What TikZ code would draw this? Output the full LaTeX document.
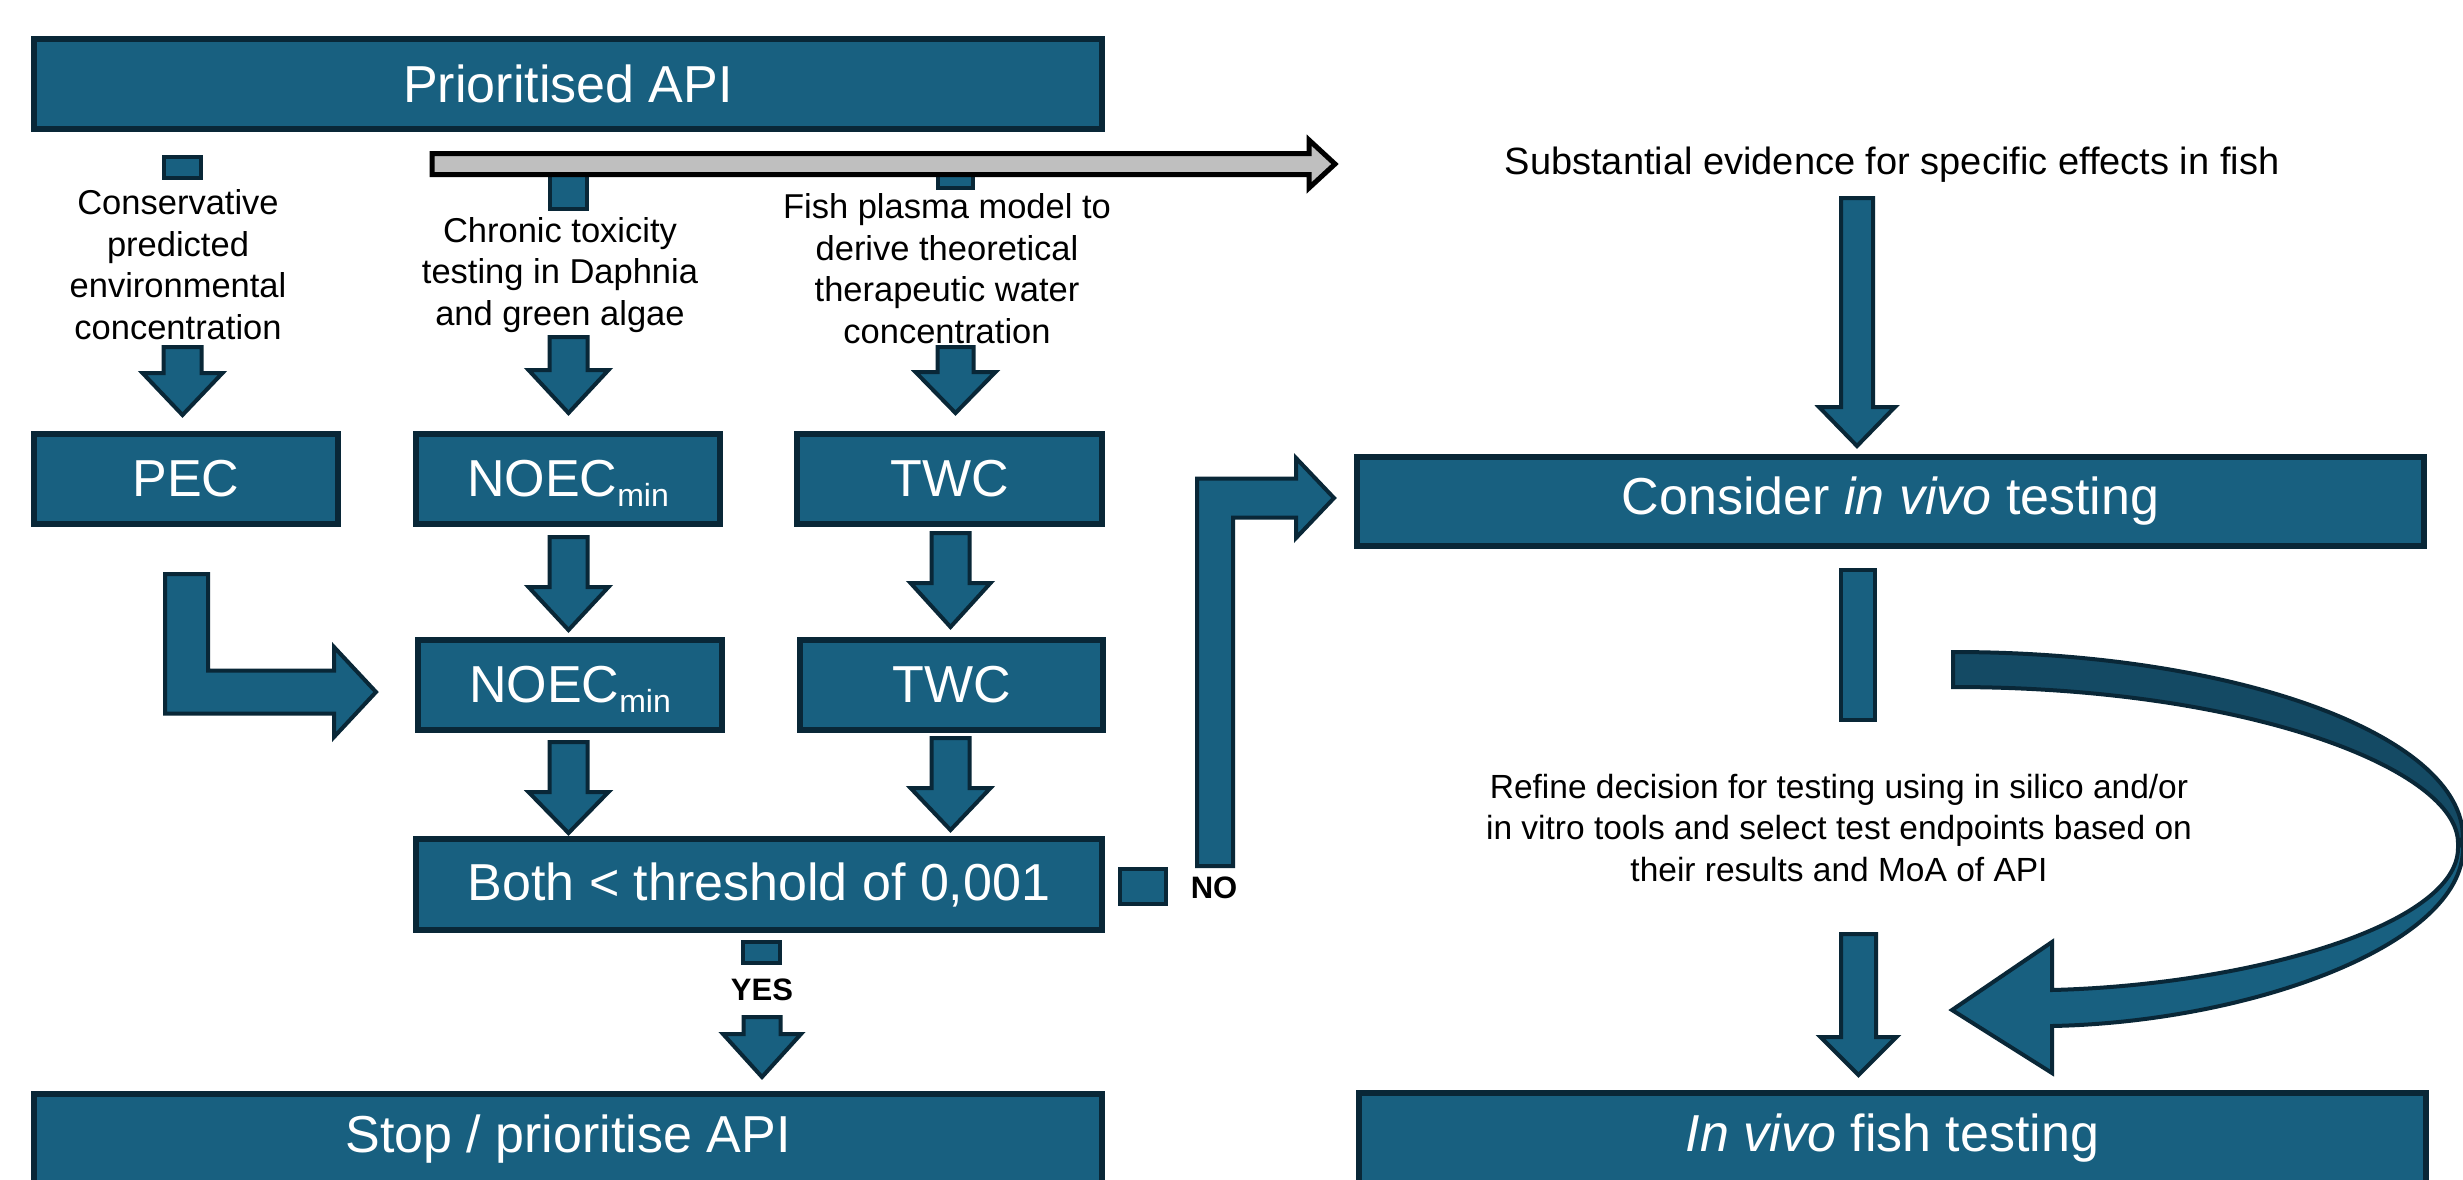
\documentclass[tikz,border=0pt]{standalone}
\usepackage{fontspec}
\setmainfont{Liberation Sans}
\usetikzlibrary{calc}
\definecolor{boxfill}{RGB}{24,96,128}
\definecolor{boxline}{RGB}{9,39,55}
\definecolor{backfill}{RGB}{20,74,100}
\definecolor{arrowgray}{RGB}{191,191,191}
% vertical block arrow: #1 start coord, #2 tip coord, #3 head length, #4 shaft half width, #5 head half width
\newcommand\dnblock[5]{%
  \draw[blk] let \p1=(#1), \p2=(#2) in
    (\x1-#4pt,\y1) -- (\x1+#4pt,\y1) -- (\x1+#4pt,\y2+#3pt) -- (\x1+#5pt,\y2+#3pt)
    -- (\x2,\y2) -- (\x1-#5pt,\y2+#3pt) -- (\x1-#4pt,\y2+#3pt) -- cycle;}
\newcommand\noecmin{NOEC\raisebox{-10pt}[0pt][0pt]{\fontsize{32}{32}\selectfont min}}
\begin{document}
\begin{tikzpicture}[x=1pt,y=-1pt,
  box/.style={draw=boxline, fill=boxfill, line width=6pt, inner sep=0pt, text=white,
    font=\fontsize{52}{60}\selectfont},
  blk/.style={draw=boxline, fill=boxfill, line width=4pt, line join=miter},
  stub/.style={draw=boxline, fill=boxfill, line width=4pt},
  note/.style={align=center, inner sep=0pt, text=black, font=\fontsize{34.5}{41.5}\selectfont},
  yesno/.style={inner sep=0pt, text=black, font=\bfseries\fontsize{31}{36}\selectfont},
]
\useasboundingbox (0,0) rectangle (2463,1179);
\fill[white] (0,0) rectangle (2463,1179);

% ---------- boxes ----------
\node[box, minimum width=1068, minimum height=90] (api) at (568,84) {Prioritised API};
\node[box, minimum width=304, minimum height=90] (pec) at (186,479) {PEC};
\node[box, minimum width=304, minimum height=90] (noec1) at (568,479) {\noecmin};
\node[box, minimum width=305, minimum height=90] (twc1) at (949.5,479) {TWC};
\node[box, minimum width=304, minimum height=90] (noec2) at (570,685) {\noecmin};
\node[box, minimum width=303, minimum height=90] (twc2) at (951.5,685) {TWC};
\node[box, minimum width=686, minimum height=91] (both) at (759,884.5) {Both < threshold of 0,001};
\node[box, minimum width=1068, minimum height=90] (stop) at (568,1139) {Stop / prioritise API};
\node[box, minimum width=1067, minimum height=89] (consider) at (1890.5,501.5) {Consider \textit{in vivo} testing};
\node[box, minimum width=1067, minimum height=90] (invivo) at (1892.5,1138) {\textit{In vivo} fish testing};

% ---------- texts ----------
\node[note] (t1) at (178,264.5) {Conservative\\predicted\\environmental\\concentration};
\node[note] (t2) at (560,275) {Chronic toxicity\\testing in Daphnia\\and green algae};
\node[note] (t3) at (947,268.5) {Fish plasma model to\\derive theoretical\\therapeutic water\\concentration};
\node[inner sep=0pt, text=black, font=\fontsize{38}{45}\selectfont] (evid) at (1892,165)
  {Substantial evidence for specific effects in fish};
\node[note, font=\fontsize{33.5}{41.5}\selectfont] (refine) at (1839,828)
  {Refine decision for testing using in silico and/or\\in vitro tools and select test endpoints based on\\their results and MoA of API};
\node[yesno] (no) at (1214,888) {NO};
\node[yesno] (yes) at (762,990) {YES};

% ---------- stubs (arrow parts above the texts) ----------
\coordinate (s1a) at (164,157);  \coordinate (s1b) at (201,178);
\coordinate (s2a) at (550,157);  \coordinate (s2b) at (587,209);
\coordinate (s3a) at (938,157);  \coordinate (s3b) at (973,188);
\coordinate (sna) at (1120,869); \coordinate (snb) at (1166,904);
\coordinate (sya) at (743,942);  \coordinate (syb) at (780,963);
\coordinate (sra) at (1841,570); \coordinate (srb) at (1875,720);
\draw[stub] (s1a) rectangle (s1b);
\draw[stub] (s2a) rectangle (s2b);
\draw[stub] (s3a) rectangle (s3b);
\draw[stub] (sna) rectangle (snb);
\draw[stub] (sya) rectangle (syb);
\draw[stub] (sra) rectangle (srb);

% ---------- grey arrow ----------
\coordinate (gs) at (432,164); \coordinate (gt) at (1335,164);
\draw[draw=black, fill=arrowgray, line width=5pt, line join=miter]
  let \p1=(gs), \p2=(gt) in
  (\x1,\y1+10.5pt) -- (\x2-26pt,\y1+10.5pt) -- (\x2-26pt,\y2+24pt) -- (\x2,\y2)
  -- (\x2-26pt,\y2-24pt) -- (\x2-26pt,\y1-10.5pt) -- (\x1,\y1-10.5pt) -- cycle;

% ---------- vertical block arrows ----------
\coordinate (a1s) at (182.5,347); \coordinate (a1t) at (182.5,415);
\coordinate (a2s) at (568.5,337); \coordinate (a2t) at (568.5,413);
\coordinate (a3s) at (955.5,347); \coordinate (a3t) at (955.5,413);
\coordinate (b2s) at (568.5,537); \coordinate (b2t) at (568.5,630);
\coordinate (b3s) at (950.5,533); \coordinate (b3t) at (950.5,627);
\coordinate (c2s) at (568.5,742); \coordinate (c2t) at (568.5,833);
\coordinate (c3s) at (950.5,738); \coordinate (c3t) at (950.5,830);
\coordinate (ys)  at (762,1017);  \coordinate (yt)  at (762,1077);
\coordinate (r1s) at (1857,198);  \coordinate (r1t) at (1857,446);
\coordinate (r2s) at (1858.5,934); \coordinate (r2t) at (1858.5,1075);
\dnblock{a1s}{a1t}{42}{19}{40}
\dnblock{a2s}{a2t}{43}{19}{40}
\dnblock{a3s}{a3t}{41}{18}{40}
\dnblock{b2s}{b2t}{43}{19}{40}
\dnblock{b3s}{b3t}{44}{19}{40}
\dnblock{c2s}{c2t}{41}{19}{40}
\dnblock{c3s}{c3t}{42}{19}{40}
\dnblock{ys}{yt}{43}{18.5}{39}
\dnblock{r1s}{r1t}{39}{16}{38}
\dnblock{r2s}{r2t}{38}{17.5}{38}

% ---------- bent arrow PEC -> NOEC ----------
\coordinate (ps) at (186.5,574); \coordinate (pt) at (376,692);
\draw[blk] let \p1=(ps), \p2=(pt) in
  (\x1-21.5pt,\y1) -- (\x1+21.5pt,\y1) -- (\x1+21.5pt,\y2+21.5pt) -- (\x2-42pt,\y2+21.5pt)
  -- (\x2-42pt,\y2+45pt) -- (\x2,\y2) -- (\x2-42pt,\y2-45pt) -- (\x2-42pt,\y2-21.5pt)
  -- (\x1-21.5pt,\y2-21.5pt) -- cycle;

% ---------- NO elbow arrow ----------
\coordinate (ns) at (1215,866); \coordinate (nt) at (1334,498);
\draw[blk] let \p1=(ns), \p2=(nt) in
  (\x1-18pt,\y1) -- (\x1-18pt,\y2+19.5pt) -- (\x2-38pt,\y2+19.5pt) -- (\x2-38pt,\y2+40pt)
  -- (\x2,\y2) -- (\x2-38pt,\y2-40pt) -- (\x2-38pt,\y2-19.5pt) -- (\x1+18pt,\y2-19.5pt)
  -- (\x1+18pt,\y1) -- cycle;

% ---------- curved arrow ----------
\draw[blk] (2463,838) -- (2463,848) .. controls (2463,945) and (2250,1022) .. (2052,1026)
  -- (2052,1073) -- (1952,1010) -- (2052,942) -- (2052,990)
  .. controls (2250,985) and (2458,925) .. (2458,848) -- cycle;
\draw[blk, fill=backfill] (1953,652) .. controls (2235,652) and (2463,735) .. (2463,838)
  -- (2458,843) .. controls (2458,770) and (2250,687) .. (1953,687) -- cycle;
\end{tikzpicture}
\end{document}
